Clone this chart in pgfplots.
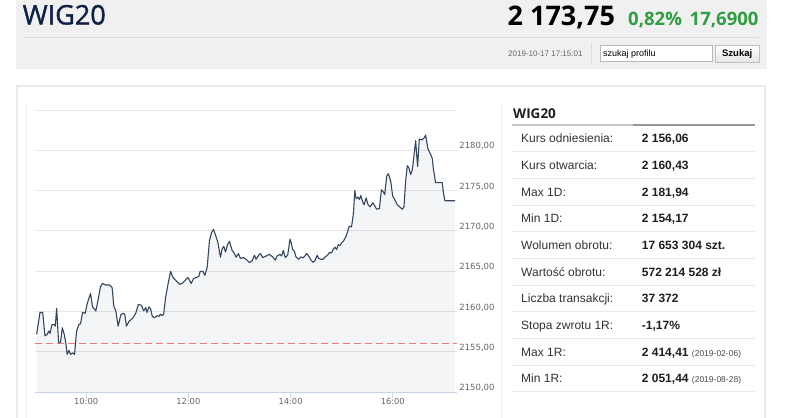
\documentclass[border=0pt]{standalone}
\usepackage{fontspec}
\setmainfont{Liberation Sans}
\newfontfamily\opensans{Open Sans}
\newfontfamily\opensanssb[UprightFeatures={FakeBold=1.2}]{Open Sans}
\newfontfamily\dejavu{DejaVu Sans}
\usepackage{pgfplots}
\pgfplotsset{compat=1.18}
\usepackage{pgfplotstable}
\definecolor{hdrbg}{HTML}{F0F0F0}
\definecolor{hdrline}{HTML}{DCDCDC}
\definecolor{navy}{HTML}{0D2145}
\definecolor{upgreen}{HTML}{2E9E41}
\definecolor{gridc}{HTML}{E6E6E6}
\definecolor{axisc}{HTML}{CCD6EB}
\definecolor{labc}{HTML}{666666}
\definecolor{linec}{HTML}{34465F}
\definecolor{refred}{RGB}{240,120,120}
\definecolor{panelc}{HTML}{EBEBEB}
\definecolor{rowc}{HTML}{E8E8E8}
\definecolor{txt}{HTML}{333333}
\definecolor{val}{HTML}{1E1E1E}

\pgfplotstableread{
m v
1.95 2157.2
5.9 2159.9
9.0 2159.9
11.7 2157.0
14.4 2157.2
16.0 2157.6
17.6 2157.3
19.9 2158.4
22.6 2158.4
23.8 2158.2
25.4 2160.4
27.7 2156.2
30.0 2156.2
32.0 2158.0
34.3 2157.2
36.3 2156.0
37.8 2154.7
39.8 2155.2
41.8 2154.7
44.1 2154.9
46.4 2154.7
48.8 2157.6
51.5 2158.4
53.5 2158.5
55.8 2159.9
58.9 2159.8
61.3 2161.0
65.2 2162.25
67.5 2160.6
71.4 2160.1
74.1 2161.5
76.9 2163.1
79.2 2163.5
83.1 2163.3
87.8 2163.3
90.5 2163.0
92.5 2160.7
94.8 2160.1
97.6 2158.2
100.7 2159.6
103.4 2159.8
105.4 2159.7
107.3 2158.2
110.4 2158.8
115.1 2159.25
118.2 2159.8
121.4 2160.9
124.9 2160.8
127.6 2160.1
130.0 2160.5
131.5 2159.9
133.8 2160.6
135.8 2160.3
137.7 2159.4
140.5 2159.25
143.2 2159.5
145.5 2159.4
147.1 2159.7
149.4 2159.5
151.0 2159.7
153.3 2161.75
156.1 2163.4
159.2 2165.0
161.9 2164.25
165.8 2163.8
169.7 2163.4
172.8 2163.5
175.6 2163.8
179.5 2164.25
183.4 2163.5
186.1 2164.1
190.0 2164.25
192.4 2164.4
193.9 2165.0
197.0 2165.0
199.4 2164.5
202.1 2165.5
204.8 2168.8
207.2 2169.8
209.5 2170.2
211.9 2169.5
214.6 2168.6
217.7 2166.75
219.7 2167.8
221.6 2168.1
223.6 2167.4
226.3 2168.4
228.3 2168.7
231.4 2167.6
234.1 2167.2
236.1 2166.75
238.8 2167.2
241.1 2166.6
244.6 2166.7
247.8 2166.5
251.7 2166.1
254.8 2166.3
257.6 2167.0
259.5 2166.5
262.6 2167.0
264.6 2167.2
267.3 2166.7
271.2 2166.9
275.1 2167.1
279.0 2166.8
282.1 2166.4
284.1 2166.9
287.6 2167.1
289.5 2166.9
291.5 2167.6
293.8 2166.7
296.6 2167.0
299.3 2169.0
300.9 2168.5
302.4 2167.7
304.4 2167.5
306.3 2166.8
309.4 2166.5
312.2 2166.8
314.1 2166.65
316.9 2166.9
318.8 2167.2
321.2 2166.9
323.9 2166.4
326.6 2166.1
329.0 2166.4
331.3 2167.0
332.9 2166.6
335.6 2166.5
338.3 2166.5
340.7 2166.8
343.4 2167.0
345.3 2167.3
348.1 2167.3
350.0 2167.7
352.0 2168.0
354.0 2167.7
355.9 2168.3
357.8 2168.2
359.8 2168.5
362.1 2168.75
364.9 2169.3
366.8 2169.9
368.8 2170.6
371.5 2170.5
373.8 2172.2
375.4 2175.0
376.9 2174.0
379.3 2174.2
380.8 2173.9
382.4 2174.4
384.4 2173.7
386.3 2173.25
388.7 2174.1
391.0 2173.25
393.3 2173.0
396.5 2173.5
398.8 2173.1
401.1 2172.7
404.3 2172.8
406.6 2175.1
408.6 2174.9
410.5 2174.5
412.8 2176.8
414.8 2177.1
417.5 2176.2
419.9 2174.3
422.2 2173.9
425.3 2173.25
428.5 2172.95
431.2 2172.7
433.1 2173.0
435.1 2176.2
437.0 2178.1
439.0 2177.8
440.9 2177.0
442.9 2177.6
444.8 2179.3
446.8 2181.2
449.1 2178.0
451.1 2181.4
454.2 2181.3
456.6 2181.5
458.5 2181.9
461.2 2180.2
464.4 2179.5
466.3 2179.0
467.5 2177.8
470.2 2176.0
472.9 2176.0
478.0 2176.0
479.2 2174.9
481.1 2173.75
487.8 2173.75
493.0 2173.75
}\wigdata

\newcommand{\fs}[1]{\fontsize{#1bp}{#1bp}\selectfont}

\begin{document}
\begin{tikzpicture}[x=1bp,y=-1bp]
\path[use as bounding box, fill=white] (0,0) rectangle (786,417);
% header
\fill[hdrbg] (15.7,0) rectangle (766.7,69.3);
\draw[hdrline, line width=1bp] (23,37) -- (759,37);
\node[anchor=base west, inner sep=0pt, text=navy, font=\opensanssb\fs{27}] at (22.5,24.5) {WIG20};
\node[anchor=base west, inner sep=0pt, text=black, font=\opensans\bfseries\fs{27}] at (507.5,25.3) {2 173,75};
\node[anchor=base west, inner sep=0pt, text=upgreen, font=\opensans\bfseries\fs{18.5}] at (628,25.8) {0,82\%};
\node[anchor=base west, inner sep=0pt, text=upgreen, font=\opensans\bfseries\fs{18.5}] at (689.5,25.8) {17,6900};
\node[anchor=base east, inner sep=0pt, text=labc, font=\fs{8}] at (582.7,56.2) {2019-10-17 17:15:01};
\draw[hdrline, line width=1bp] (591.7,42.7) -- (591.7,63.3);
\draw[fill=white, draw=gray!55, line width=0.8bp] (600,45) rectangle (712.7,61.7);
\node[anchor=base west, inner sep=0pt, text=black, font=\fs{9}] at (603,56.4) {szukaj profilu};
\shade[top color=white, bottom color=black!10, draw=black!25, line width=0.8bp] (715,45) rectangle (759.3,62);
\node[anchor=base, inner sep=0pt, text=black, font=\bfseries\fs{9.5}] at (737.2,56.8) {Szukaj};
% panel
\draw[panelc, line width=2bp] (16.7,420) -- (16.7,86) -- (764.7,86) -- (764.7,420);
\draw[black!5, line width=1bp] (26.7,103) -- (26.7,420);
\draw[black!5, line width=1bp] (501,103) -- (501,420);
% table
\node[anchor=base west, inner sep=0pt, text=val, font=\opensans\bfseries\fs{13.5}] at (513,118.5) {WIG20};
\draw[black!22, line width=1.5bp] (511.7,125) -- (633,125);
\draw[black!40, line width=1.5bp] (633,125) -- (755,125);
\foreach \k/\lab/\va in {0/Kurs odniesienia:/{2 156,06},
  1/Kurs otwarcia:/{2 160,43},
  2/Max 1D:/{2 181,94},
  3/Min 1D:/{2 154,17},
  4/Wolumen obrotu:/{17 653 304 szt.},
  5/Wartość obrotu:/{572 214 528 zł},
  6/Liczba transakcji:/{37 372},
  7/Stopa zwrotu 1R:/{-1,17\%},
  8/Max 1R:/{2 414,41 {\mdseries\color{black!70}\fs{8.5}(2019-02-06)}},
  9/Min 1R:/{2 051,44 {\mdseries\color{black!70}\fs{8.5}(2019-08-28)}}}{
  \draw[rowc, line width=1bp] (511.7,151.7+26.67*\k) -- (755,151.7+26.67*\k);
  \node[anchor=base west, inner sep=0pt, text=txt, font=\fs{12}] at (521,142.8+26.67*\k) {\lab};
  \node[anchor=base west, inner sep=0pt, text=val, font=\bfseries\fs{12}] at (641.7,142.8+26.67*\k) {\va};
}
% chart
\begin{axis}[
  at={(35bp,-392.3bp)}, anchor=south west,
  scale only axis, width=421.7bp, height=282.3bp,
  xmin=0, xmax=495, ymin=2150, ymax=2185,
  axis x line*=bottom, axis y line*=right,
  x axis line style={draw=axisc, line width=1bp, -},
  y axis line style={draw=none},
  xtick={60,180,300,420}, xticklabels={10:00,12:00,14:00,16:00},
  ytick={2150,2155,...,2180},
  extra y ticks={2185}, extra y tick labels={},
  extra y tick style={grid=major},
  ymajorgrids, major grid style={draw=gridc, line width=1bp},
  tick align=outside, major tick length=6bp,
  xtick style={draw=axisc, line width=1bp},
  ytick style={draw=none},
  /pgf/number format/assume math mode=true,
  y tick label style={/pgf/number format/fixed, /pgf/number format/fixed zerofill, /pgf/number format/precision=2, /pgf/number format/use comma, /pgf/number format/1000 sep={}},
  yticklabel style={font=\dejavu\fs{8.5}, text=labc, anchor=west, inner sep=0pt, xshift=-3.5bp, yshift=4.3bp},
  xticklabel style={font=\dejavu\fs{8.3}, text=labc, anchor=north, inner sep=0pt},
  clip=false,
]
\addplot[fill=linec, fill opacity=0.05, draw=none] table[x=m, y=v] {\wigdata} \closedcycle;
\addplot[draw=linec, line width=1.1bp, line join=round] table[x=m, y=v] {\wigdata};
\addplot[draw=refred, draw opacity=1, line width=1.2bp, dash pattern=on 7bp off 4bp] coordinates {(0,2156.06) (495,2156.06)};
\end{axis}
\end{tikzpicture}
\end{document}
